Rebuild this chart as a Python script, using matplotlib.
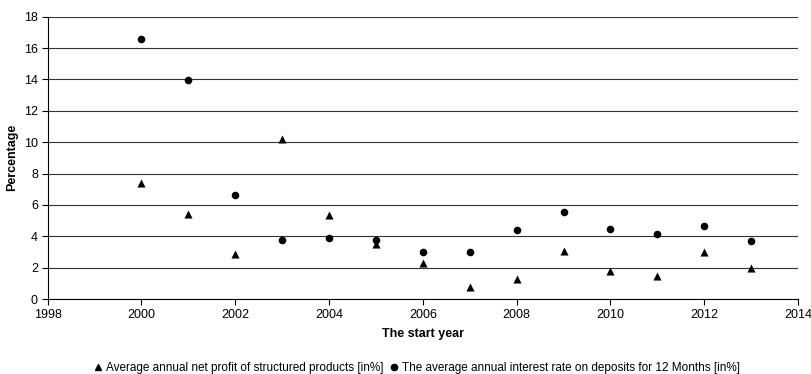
import matplotlib
matplotlib.use("Agg")
import matplotlib.pyplot as plt
from matplotlib.lines import Line2D

years = [2000, 2001, 2002, 2003, 2004, 2005, 2006, 2007, 2008, 2009, 2010, 2011, 2012, 2013]
structured = [7.4, 5.44, 2.89, 10.2, 5.38, 3.53, 2.28, 0.75, 1.28, 3.06, 1.8, 1.45, 3.0, 1.98]
deposits = [16.6, 13.95, 6.65, 3.78, 3.89, 3.74, 3.02, 3.02, 4.42, 5.55, 4.48, 4.15, 4.68, 3.72]
label_structured = "Average annual net profit of structured products [in%]"
label_deposits = "The average annual interest rate on deposits for 12 Months [in%]"

plt.rcParams['font.family'] = ['Liberation Sans', 'DejaVu Sans']
fig = plt.figure(figsize=(8.11, 3.74), dpi=100)
ax = fig.add_axes([47.7/811, 1 - 299/374, (798 - 47.7)/811, (299 - 16.7)/374])

ax.scatter(years, structured, marker='^', s=34, color='black', zorder=3, linewidths=0)
ax.scatter(years, deposits, marker='o', s=30, color='black', zorder=3, linewidths=0)

ax.set_xlim(1998, 2014)
ax.set_ylim(0, 18)
ax.set_xticks(range(1998, 2015, 2))
ax.set_yticks(range(0, 19, 2))
ax.yaxis.grid(True, color='#333333', linewidth=0.8)
ax.set_axisbelow(True)
for s in ['top', 'right']:
    ax.spines[s].set_visible(False)
ax.spines['left'].set_linewidth(0.8)
ax.spines['bottom'].set_linewidth(0.8)
ax.tick_params(axis='both', labelsize=9, length=4, width=0.8, direction='out', pad=3)
ax.set_xlabel("The start year", fontsize=9, fontweight='bold', labelpad=5)
ax.set_ylabel("Percentage", fontsize=9, fontweight='bold', labelpad=4)

handles = [Line2D([], [], marker='^', color='black', linestyle='none', markersize=5),
           Line2D([], [], marker='o', color='black', linestyle='none', markersize=4.5)]
fig.legend(handles, [label_structured, label_deposits], loc='center', ncol=2,
           bbox_to_anchor=(416.5/811, 1 - 368/374), frameon=False, fontsize=8.5,
           handletextpad=0.25, columnspacing=0.5, handlelength=0.8)

fig.savefig("out.png", dpi=100)
